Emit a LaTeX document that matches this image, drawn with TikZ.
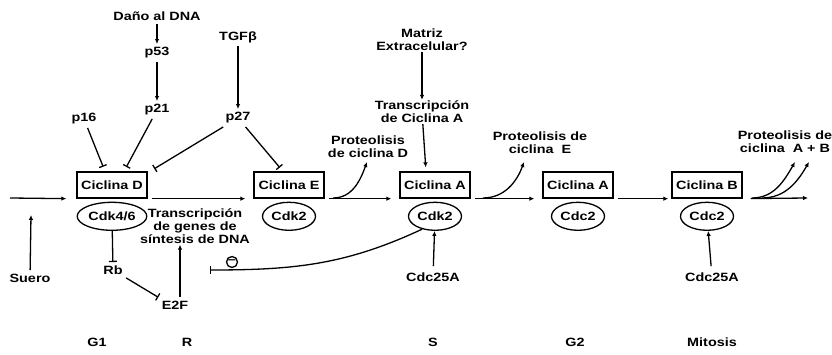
\documentclass[tikz,border=0pt]{standalone}
\usepackage{fontspec}
\setmainfont{Liberation Sans}[FakeStretch=1.2]
\usetikzlibrary{arrows.meta,positioning,shapes.geometric}

\tikzset{
  ciclina/.style={draw, line width=1.3pt, minimum width=70pt, minimum height=26pt, inner sep=2pt},
  cdk/.style={draw, ellipse, line width=1.3pt, minimum width=53pt, minimum height=28pt, inner sep=1pt},
  act/.style={line width=1.3pt, -{Latex[length=5pt,width=4.5pt]}},
  inh/.style={line width=1.3pt, -{Bar[width=8pt]}},
  fase/.style={act, shorten <=4pt, shorten >=8pt},
  lbl/.style={align=center, inner sep=1pt},
}

\begin{document}
\begin{tikzpicture}[x=1pt, y=1pt, font=\fontsize{12}{13}\selectfont\bfseries]
        \useasboundingbox (0,0) rectangle (832,355);

        \node (dano) at (157,339) {Daño al DNA};
        \node (p53) at (157,302) {p53};
        \node (p21) at (157,245) {p21};
        \node (tgf) at (238,318) {TGFβ};
        \node (p27) at (238,237) {p27};
        \node (p16) at (84,236) {p16};

        \node[ciclina] (cycD) at (112,170) {Ciclina D};
        \node[cdk, below=3pt of cycD] (cdkD) {Cdk4/6};
        \node[ciclina] (cycE) at (289,170) {Ciclina E};
        \node[cdk, below=3pt of cycE] (cdkE) {Cdk2};
        \node[ciclina] (cycA) at (435,170) {Ciclina A};
        \node[cdk, below=3pt of cycA] (cdkA) {Cdk2};
        \node[ciclina] (cycA2) at (578,170) {Ciclina A};
        \node[cdk, below=3pt of cycA2] (cdc2A) {Cdc2};
        \node[ciclina] (cycB) at (707,170) {Ciclina B};
        \node[cdk, below=3pt of cycB] (cdc2B) {Cdc2};

        \node[lbl] (matriz) at (422,315) {Matriz\\Extracelular?};
        \node[lbl] (transA) at (422,243) {Transcripción\\de Ciclina A};
        \node[lbl] (protD) at (368,208) {Proteolisis\\de ciclina D};
        \node[lbl] (protE) at (540,212) {Proteolisis de\\ciclina\ \ E};
        \node[lbl] (protAB) at (785,213) {Proteolisis de\\ciclina\ \ A + B};
        \node[lbl] (transDNA) at (195,129) {Transcripción\\de genes de\\síntesis de DNA};

        \node (rb) at (113,85) {Rb};
        \node (e2f) at (175,50) {E2F};
        \node (suero) at (30,77) {Suero};
        \node (cdcS) at (433,78) {Cdc25A};
        \node (cdcM) at (712,78) {Cdc25A};
        \node[circle, draw, line width=1.3pt, inner sep=0pt, minimum size=11pt] (neg) at (232,93) {\textendash};

        \node (g1) at (97,13) {G1};
        \node (r) at (187,13) {R};
        \node (s) at (433,13) {S};
        \node (g2) at (575,13) {G2};
        \node (mit) at (712,13) {Mitosis};

        \coordinate (start) at (10,157);
        \coordinate (sueroEnd) at (31,140);
        \coordinate (fin) at (808,157);
        \coordinate (negEnd) at (210,85);
        \coordinate (degD0) at (333,157);
        \coordinate (degD1) at (367,193);
        \coordinate (degE0) at (483,157);
        \coordinate (degE1) at (524,193);
        \coordinate (degA0) at (752,157);
        \coordinate (degA1) at (795,193);
        \coordinate (degB0) at (762,157);
        \coordinate (degB1) at (809,193);

        \draw[act] (dano) -- (p53);
        \draw[act] (p53) -- (p21);
        \draw[act] (tgf) -- (p27);
        \draw[act] (matriz) -- (transA);
        \draw[act, shorten >=4pt] (transA) -- ([xshift=-9pt]cycA.north);

        \draw[inh, shorten >=5pt] (p16) -- ([xshift=-7pt]cycD.north);
        \draw[inh, shorten >=5pt] (p21) -- ([xshift=12pt]cycD.north);
        \draw[inh, shorten >=5pt] (p27) -- ([xshift=38pt]cycD.north);
        \draw[inh, shorten >=5pt] (p27) -- ([xshift=-6pt]cycE.north);

        \draw[inh] (cdkD) -- (rb);
        \draw[inh] (rb) -- (e2f.north west);
        \draw[act] ([xshift=5pt]e2f.north) -- ([xshift=-15pt]transDNA.south);
        \draw[act] (suero) -- (sueroEnd);
        \draw[act, shorten <=3pt] (cdcS) -- (cdkA);
        \draw[act, shorten <=3pt] (cdcM) -- (cdc2B);
        \draw[inh] (cdkA.225) to[out=205, in=0] (negEnd);

        \draw[act] (start) -- ([xshift=-10pt]cycD.south west);
        \draw[fase] (cycD.south east) -- (cycE.south west);
        \draw[fase] (cycE.south east) -- (cycA.south west);
        \draw[fase] (cycA.south east) -- (cycA2.south west);
        \draw[fase, shorten >=3pt] (cycA2.south east) -- (cycB.south west);
        \draw[act, shorten <=8pt] (cycB.south east) -- (fin);

        \draw[act] (degD0) to[out=0, in=-110] (degD1);
        \draw[act] (degE0) to[out=0, in=-110] (degE1);
        \draw[act] (degA0) to[out=0, in=-120] (degA1);
        \draw[act] (degB0) to[out=0, in=-120] (degB1);
\end{tikzpicture}
\end{document}
